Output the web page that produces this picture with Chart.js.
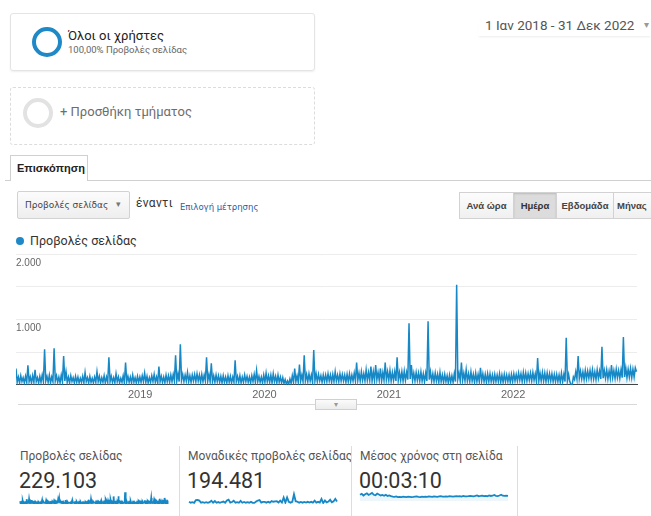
<!DOCTYPE html>
<html lang="el">
<head>
<meta charset="utf-8">
<title>Επισκόπηση</title>
<script src="https://cdn.jsdelivr.net/npm/chart.js@4.4.0/dist/chart.umd.min.js"></script>
<style>
  body { margin:0; width:651px; height:516px; overflow:hidden; background:#fff; position:relative; font-family: Roboto, Arial, sans-serif; }
  .abs { position:absolute; white-space:nowrap; }
  .seg { position:absolute; left:10px; width:305px; height:58px; box-sizing:border-box; border-radius:3px; }
  #seg1 { top:13px; border:1px solid #e4e4e4; box-shadow:0 1px 2px rgba(0,0,0,0.07); }
  #seg2 { top:87px; border:1px dashed #dcdcdc; }
  .ring { position:absolute; width:30px; height:30px; box-sizing:border-box; border-radius:50%; border:4px solid #1f88c6; }
  .tab { left:10px; top:155px; width:78px; height:26px; box-sizing:border-box; border:1px solid #d0d0d0; border-bottom:none; background:#fff; font:bold 11px "Liberation Sans", Arial, sans-serif; color:#222; padding:6px 0 0 6px; }
  .drop { left:17px; top:191px; width:113px; height:28px; box-sizing:border-box; border:1px solid #d2d2d2; border-radius:2px; background:linear-gradient(#fcfcfc,#eeeeee); font:9px "DejaVu Sans", Verdana, sans-serif; color:#444; padding:8px 0 0 7px; }
  .btns { left:459px; top:192px; height:27px; display:flex; border:1px solid #d2d2d2; border-right:none; box-sizing:border-box; }
  .btns div { height:25px; font:bold 9.5px "Liberation Sans", Arial, sans-serif; line-height:25px; text-align:center; color:#444; border-right:1px solid #d2d2d2; background:linear-gradient(#fcfcfc,#f0f0f0); }
  .btns div.on { background:#dcdcdc; box-shadow:inset 0 1px 2px rgba(0,0,0,0.15); color:#333; }
  .card-t { font-size:12px; color:#555; top:449px; }
  .card-v { font-size:21.5px; color:#333; top:468px; }
  .sep { width:1px; top:446px; height:70px; background:#dddddd; }
</style>
</head>
<body>

<div class="seg" id="seg1"></div>
<div class="ring" style="left:32px;top:27px;"></div>
<div class="abs" style="left:68px;top:28px;font-size:13px;color:#222;">Όλοι οι χρήστες</div>
<div class="abs" style="left:68px;top:44px;font-size:9.5px;color:#666;">100,00% Προβολές σελίδας</div>

<div class="seg" id="seg2"></div>
<div class="ring" style="left:23px;top:98px;border-color:#e2e2e2;"></div>
<div class="abs" style="left:60px;top:104px;font-size:13px;color:#6d6d6d;">+ Προσθήκη τμήματος</div>

<div class="abs" style="left:478px;top:14px;width:173px;height:22px;box-shadow:0 2px 2px -1px rgba(0,0,0,0.08);"></div>
<div class="abs" style="left:485px;top:17px;font-size:13.5px;color:#555;">1 Ιαν 2018 - 31 Δεκ 2022</div>
<div class="abs" style="left:644px;top:19px;font-size:10px;color:#999;">▾</div>

<div class="abs" style="left:5px;top:180px;width:646px;height:1px;background:#d0d0d0;"></div>
<div class="abs tab">Επισκόπηση</div>

<div class="abs drop">Προβολές σελίδας<span style="position:absolute;left:98px;top:7px;color:#777;">▾</span></div>
<div class="abs" style="left:136px;top:196px;font-size:12px;color:#333;letter-spacing:0.3px;">έναντι</div>
<div class="abs" style="left:180px;top:202px;font:8.5px 'DejaVu Sans', Verdana, sans-serif;color:#1d5fa8;">Επιλογή μέτρησης</div>

<div class="abs btns">
  <div style="width:53px;">Ανά ώρα</div>
  <div class="on" style="width:42px;">Ημέρα</div>
  <div style="width:56px;">Εβδομάδα</div>
  <div style="width:48px;text-align:left;padding-left:3px;">Μήνας</div>
</div>

<div class="abs" style="left:16px;top:237px;width:8px;height:8px;border-radius:50%;background:#1f88c6;"></div>
<div class="abs" style="left:30px;top:233px;font-size:12.5px;color:#333;">Προβολές σελίδας</div>

<canvas id="main" class="abs" width="651" height="167" style="left:0;top:244px;"></canvas>

<div class="abs" style="left:18px;top:404px;width:619px;height:1px;background:#d8d8d8;"></div>
<div class="abs" style="left:315px;top:399px;width:42px;height:11px;box-sizing:border-box;border:1px solid #d0d0d0;background:linear-gradient(#fbfbfb,#ececec);font-size:8px;color:#999;text-align:center;line-height:9px;">▾</div>

<div class="abs card-t" style="left:20px;">Προβολές σελίδας</div>
<div class="abs card-v" style="left:19px;">229.103</div>
<canvas id="sp1" class="abs" width="150" height="16" style="left:19px;top:488px;"></canvas>
<div class="abs sep" style="left:179px;"></div>

<div class="abs card-t" style="left:188px;">Μοναδικές προβολές σελίδας</div>
<div class="abs card-v" style="left:187px;">194.481</div>
<canvas id="sp2" class="abs" width="150" height="16" style="left:188px;top:488px;"></canvas>
<div class="abs sep" style="left:351px;"></div>

<div class="abs card-t" style="left:360px;">Μέσος χρόνος στη σελίδα</div>
<div class="abs card-v" style="left:359px;">00:03:10</div>
<canvas id="sp3" class="abs" width="150" height="14" style="left:359px;top:488px;"></canvas>
<div class="abs sep" style="left:517px;"></div>

<script>
// Page views, two readings per week (every 3.5 days) from 1 Jan 2018,
// read off the daily chart: a high and a low reading follow the daily band, plus the spikes
const pageViews = [
  250, 40, 120, 30, 140, 50, 110, 30, 130, 40, 300, 50, 120, 30, 140, 40, 230, 50, 110, 30, 130, 40, 150, 50, 545, 60,
  130, 40, 150, 30, 120, 50, 560, 60, 140, 40, 120, 30, 150, 50, 440, 60, 200, 40, 120, 30, 140, 50, 110, 30, 130, 40,
  120, 30, 100, 40, 130, 30, 190, 50, 110, 30, 130, 40, 100, 30, 120, 40, 200, 50, 130, 30, 110, 40, 140, 30, 120, 40,
  420, 50, 130, 40, 110, 30, 170, 50, 120, 30, 100, 40, 140, 30, 340, 50, 130, 40, 120, 30, 150, 40, 110, 30, 130, 40,
  120, 40, 140, 50, 180, 40, 130, 30, 110, 40, 140, 50, 160, 40, 120, 30, 280, 50, 130, 40, 120, 30, 150, 50, 140, 40,
  150, 50, 160, 60, 450, 60, 170, 50, 620, 70, 160, 50, 150, 60, 190, 50, 140, 40, 150, 60, 160, 50, 170, 60, 150, 40,
  160, 50, 150, 60, 420, 60, 160, 50, 330, 50, 140, 40, 150, 50, 140, 40, 130, 30, 140, 40, 120, 30, 140, 40, 130, 30,
  120, 40, 375, 50, 130, 40, 140, 30, 120, 40, 150, 50, 130, 40, 120, 30, 140, 50, 160, 40, 220, 50, 130, 40, 120, 30,
  150, 40, 180, 50, 140, 40, 150, 30, 170, 50, 130, 30, 150, 40, 120, 30, 110, 20, 80, 10, 60, 10, 90, 20, 140, 40,
  250, 50, 140, 40, 310, 60, 150, 50, 450, 60, 160, 50, 170, 60, 150, 40, 530, 60, 170, 50, 160, 60, 140, 40, 150, 50,
  150, 50, 170, 60, 150, 40, 160, 50, 200, 60, 150, 50, 170, 60, 160, 60, 150, 40, 160, 50, 170, 50, 150, 60, 180, 60,
  340, 70, 180, 60, 200, 70, 170, 60, 230, 70, 190, 70, 280, 60, 200, 70, 300, 80, 190, 70, 250, 60, 190, 70, 340, 80,
  200, 70, 220, 60, 190, 70, 200, 60, 420, 70, 190, 70, 200, 60, 210, 70, 190, 80, 940, 90, 300, 70, 180, 60, 190, 70,
  180, 60, 200, 60, 170, 50, 180, 60, 970, 80, 200, 60, 170, 50, 180, 60, 160, 40, 190, 50, 150, 40, 160, 50, 140, 30,
  150, 40, 140, 40, 170, 50, 1530, 90, 180, 60, 340, 70, 180, 60, 230, 60, 170, 50, 200, 60, 160, 40, 180, 50, 160, 50,
  260, 60, 170, 50, 160, 40, 170, 50, 170, 50, 150, 40, 160, 50, 150, 50, 170, 40, 150, 40, 160, 50, 150, 50, 150, 40,
  160, 50, 170, 60, 160, 60, 180, 70, 170, 50, 190, 60, 180, 60, 170, 70, 180, 60, 190, 70, 170, 50, 410, 60, 180, 60,
  190, 60, 180, 50, 180, 60, 170, 60, 170, 50, 160, 50, 160, 50, 150, 40, 180, 50, 160, 50, 720, 60, 160, 50, 0, 0,
  120, 80, 200, 90, 440, 100, 210, 90, 200, 80, 220, 90, 210, 100, 220, 90, 230, 90, 200, 80, 230, 100, 210, 90, 580, 100,
  220, 100, 230, 90, 210, 100, 300, 110, 220, 100, 240, 110, 220, 100, 230, 110, 730, 120, 260, 110, 240, 120, 250, 110, 240, 120,
  260, 200
];
const daysPerReading = 3.5;

// Unique page views, one value every three weeks (sparkline)
const uniqueViews = [
  180, 40, 130, 30, 430, 450, 350, 40, 120, 35,
  125, 30, 120, 330, 40, 270, 35, 130, 30, 140,
  210, 45, 360, 480, 50, 140, 330, 40, 130, 35,
  300, 35, 140, 40, 130, 40, 160, 30, 10, 200,
  360, 420, 50, 150, 160, 50, 170, 60, 270, 180,
  220, 250, 60, 350, 70, 780, 60, 800, 170, 50,
  160, 1250, 260, 180, 50, 160, 50, 150, 60, 170,
  60, 170, 60, 330, 60, 170, 70, 580, 0, 350,
  80, 200, 460, 90, 230, 600, 220
];

// Average time on page in seconds, one value every three weeks (sparkline)
const avgTime = [
  260, 300, 230, 280, 320, 250, 290, 340, 260, 240, 310, 270, 230, 250, 220, 260, 210, 230,
  200, 180, 170, 190, 160, 175, 165, 180, 170, 160, 185, 175, 165, 170, 180, 190, 175, 165,
  180, 170, 185, 175, 190, 180, 170, 195, 185, 175, 190, 200, 185, 180, 195, 185, 200, 190,
  180, 195, 205, 190, 200, 185, 210, 195, 190, 200, 215, 205, 195, 210, 230, 200, 210, 225,
  205, 215, 200, 235, 210, 220, 250, 215, 205, 230, 260, 220, 210, 225, 215
];

const yearLabels = ['2019', '2020', '2021', '2022'];
const yearStartDays = [365, 730, 1096, 1461];
const lastDay = 1825;

const blue = '#1688c6';
const fillBlue = 'rgba(22,136,198,0.08)';

function greekNum(v) {
  return String(v).replace(/\B(?=(\d{3})+(?!\d))/g, '.');
}

new Chart(document.getElementById('main'), {
  type: 'line',
  data: {
    datasets: [{
      data: pageViews.map((v, i) => ({ x: i * daysPerReading, y: v })),
      borderColor: blue,
      borderWidth: 1.5,
      backgroundColor: fillBlue,
      fill: 'origin',
      pointRadius: 0,
      tension: 0
    }]
  },
  options: {
    responsive: false,
    animation: false,
    devicePixelRatio: 1,
    layout: { padding: { left: 16, right: 14, top: 10, bottom: 5 } },
    plugins: { legend: { display: false }, tooltip: { enabled: false } },
    scales: {
      x: {
        type: 'linear',
        min: 0,
        max: lastDay,
        grid: { display: false, drawTicks: false },
        border: { color: '#444', width: 1 },
        afterBuildTicks: (s) => { s.ticks = yearStartDays.map(v => ({ value: v })); },
        ticks: {
          autoSkip: false,
          maxRotation: 0,
          padding: 4,
          color: '#666',
          font: { family: 'Liberation Sans', size: 11 },
          callback: (v) => yearLabels[yearStartDays.indexOf(v)]
        }
      },
      y: {
        min: 0,
        max: 2000,
        afterFit: (s) => { s.width = 0; },
        border: { display: false },
        grid: { color: '#ececec', drawTicks: false },
        ticks: {
          stepSize: 500,
          mirror: true,
          padding: 0,
          labelOffset: 9,
          color: '#666',
          font: { family: 'Liberation Sans', size: 10 },
          callback: (v) => (v > 0 && v % 1000 === 0) ? greekNum(v) : ''
        }
      }
    }
  }
});

function spark(id, values, fromZero) {
  new Chart(document.getElementById(id), {
    type: 'line',
    data: {
      labels: values.map((v, i) => i),
      datasets: [{
        data: values,
        borderColor: blue,
        borderWidth: 1.8,
        backgroundColor: 'rgba(22,136,198,0.08)',
        fill: 'origin',
        pointRadius: 0,
        tension: 0
      }]
    },
    options: {
      responsive: false,
      animation: false,
      devicePixelRatio: 1,
      layout: { padding: 1 },
      plugins: { legend: { display: false }, tooltip: { enabled: false } },
      scales: {
        x: { display: false },
        y: { display: false, beginAtZero: fromZero }
      }
    }
  });
}

spark('sp1', pageViews, true);
spark('sp2', uniqueViews, true);
spark('sp3', avgTime, false);
</script>
</body>
</html>
